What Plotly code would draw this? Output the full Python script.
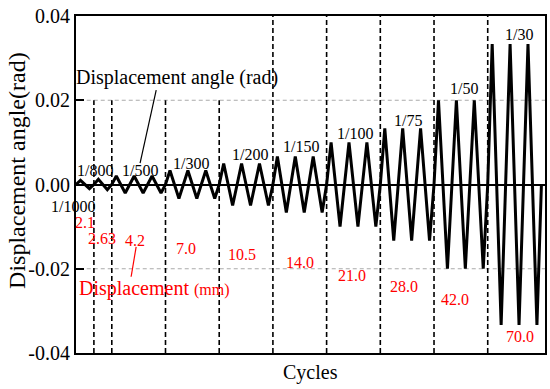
import plotly.graph_objects as go

# ---- data ----
level_labels = ["1/1000", "1/800", "1/500", "1/300", "1/200", "1/150", "1/100", "1/75", "1/50", "1/30"]
amplitudes = [0.001, 0.00125, 0.002, 0.00333, 0.005, 0.00667, 0.01, 0.01333, 0.02, 0.03333]
cycles_per_level = [1, 1, 3, 3, 3, 3, 3, 3, 3, 3]
displacement_labels = ["2.1", "2.63", "4.2", "7.0", "10.5", "14.0", "21.0", "28.0", "42.0", "70.0"]
y_ticks = [-0.04, -0.02, 0.0, 0.02, 0.04]
y_tick_text = ["-0.04", "-0.02", "0.00", "0.02", "0.04"]

# ---- label placement (data coordinates) ----
angle_label_x = [0.0, 1.06, 3.58, 6.42, 9.71, 12.56, 15.56, 18.55, 21.68, 24.76]
angle_label_y = [-0.0053, 0.0034, 0.0034, 0.0051, 0.0072, 0.0091, 0.0122, 0.0151, 0.0229, 0.0357]
disp_label_x = [0.53, 1.43, 3.27, 6.13, 9.29, 12.51, 15.42, 18.35, 21.18, 24.82]
disp_label_y = [-0.0091, -0.0127, -0.0132, -0.0151, -0.0167, -0.0184, -0.0217, -0.0241, -0.0272, -0.0362]
divider_tops = [0.02, 0.02, 0.02, 0.02, 0.04, 0.04, 0.04, 0.04, 0.04]

FONT = "Liberation Serif"

# build loading-protocol zigzag from the levels
xs, ys = [0.0], [0.0]
t = 0
boundaries = []
for amp, n in zip(amplitudes, cycles_per_level):
    for _ in range(n):
        xs += [t + 0.25, t + 0.75, t + 1]
        ys += [amp, -amp, 0.0]
        t += 1
    boundaries.append(t)
boundaries = boundaries[:-1]

fig = go.Figure()
fig.add_trace(go.Scatter(x=xs, y=ys, mode="lines",
                         line=dict(color="black", width=3), showlegend=False,
                         hoverinfo="skip"))

shapes = []
# gray dashed reference lines at +-0.02
for yv in (0.02, -0.02):
    shapes.append(dict(type="line", xref="x", yref="y", x0=0.6, x1=26.2, y0=yv, y1=yv,
                       line=dict(color="#aaaaaa", width=1, dash="4px,3px"), layer="below"))
# vertical dividers between levels
for b, top in zip(boundaries, divider_tops):
    shapes.append(dict(type="line", xref="x", yref="y", x0=b, x1=b, y0=-0.04, y1=top,
                       line=dict(color="black", width=1.6, dash="5px,3px")))
# pointer lines
shapes.append(dict(type="line", xref="x", yref="y", x0=4.48, y0=0.0224, x1=3.58, y1=0.0051,
                   line=dict(color="black", width=1.2)))
shapes.append(dict(type="line", xref="x", yref="y", x0=3.36, y0=-0.0148, x1=3.08, y1=-0.0219,
                   line=dict(color="red", width=1.2)))

annotations = []
for i, (lab, x, y) in enumerate(zip(level_labels, angle_label_x, angle_label_y)):
    annotations.append(dict(x=x, y=y, xref="x", yref="y", text=lab, showarrow=False,
                            xshift=-3 if i == 0 else 0,
                            font=dict(family=FONT, size=16, color="black")))
for lab, x, y in zip(displacement_labels, disp_label_x, disp_label_y):
    annotations.append(dict(x=x, y=y, xref="x", yref="y", text=lab, showarrow=False,
                            font=dict(family=FONT, size=16, color="red")))
annotations.append(dict(x=5.65, y=0.0254, xref="x", yref="y", text="Displacement angle (rad)",
                        showarrow=False, font=dict(family=FONT, size=20, color="black")))
annotations.append(dict(x=0.05, y=-0.0246, xref="x", yref="y", xanchor="left",
                        text="Displacement <span style='font-size:16px'>(mm)</span>",
                        showarrow=False, font=dict(family=FONT, size=20, color="red")))
# axis titles
annotations.append(dict(x=-0.126, y=0.543, xref="paper", yref="paper", text="Displacement angle(rad)",
                        xanchor="center", yanchor="middle",
                        textangle=-90, showarrow=False, font=dict(family=FONT, size=24, color="black")))
annotations.append(dict(x=0.5, y=-0.058, xref="paper", yref="paper", text="Cycles",
                        xanchor="center", yanchor="middle",
                        showarrow=False, font=dict(family=FONT, size=20, color="black")))

fig.update_layout(
    width=550, height=389,
    margin=dict(l=76, r=5, t=16, b=36, autoexpand=False),
    paper_bgcolor="white", plot_bgcolor="white",
    shapes=shapes, annotations=annotations,
    font=dict(family=FONT, color="black"),
    xaxis=dict(range=[0, 26.2], showgrid=False, zeroline=False, showticklabels=False,
               ticks="", showline=True, linecolor="black", linewidth=2, mirror=True,
               automargin=False),
    yaxis=dict(range=[-0.04, 0.04], tickvals=y_ticks, ticktext=y_tick_text,
               showgrid=False, zeroline=True, zerolinecolor="black", zerolinewidth=2,
               ticks="inside", ticklen=8, tickwidth=1.5, tickcolor="black",
               tickfont=dict(family=FONT, size=20, color="black"),
               showline=True, linecolor="black", linewidth=2, mirror=True,
               automargin=False),
)

fig.write_html("out.html", config={"displayModeBar": False},
               post_script="document.body.style.margin='0';document.body.style.overflow='hidden';")
